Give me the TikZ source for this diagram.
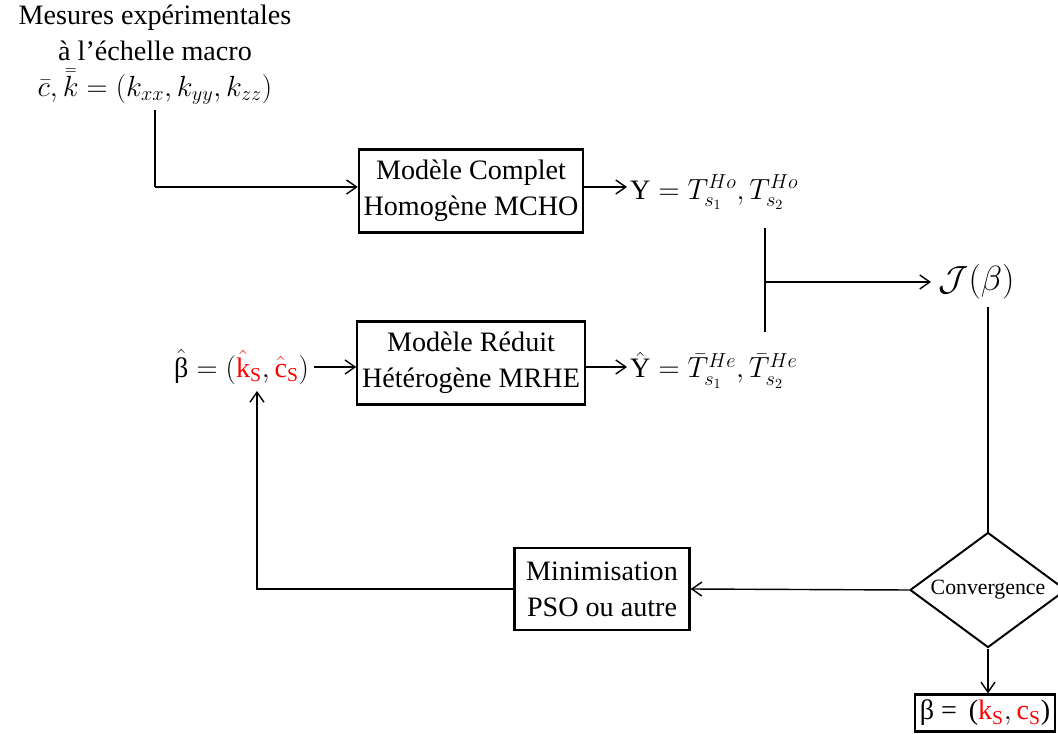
\documentclass[tikz,border=0pt]{standalone}
\usepackage{amsmath}
\usepackage{fontspec}
\setmainfont{Liberation Serif}
\usetikzlibrary{arrows.meta,positioning,shapes.geometric}

\begin{document}
\begin{tikzpicture}[
    x=0.025cm, y=-0.025cm,
    font=\fontsize{20}{25.5}\selectfont,
    bloc/.style={draw, line width=1.6pt, minimum width=5.175cm, minimum height=2.075cm, align=center},
    losange/.style={draw, diamond, line width=1.4pt, minimum width=3.9cm, minimum height=2.875cm, inner sep=0pt},
    fleche/.style={-{Straight Barb[length=2.5mm, width=3.5mm]}, line width=1pt}
]
\useasboundingbox (0,0) rectangle (1058,734);

% Donnees d'entree
\node[align=center] (mesures) at (155,55) {Mesures expérimentales\\à l’échelle macro\\$\bar{c},\bar{\bar{k}}=(k_{xx},k_{yy},k_{zz})$};

% Modeles
\node[bloc] (mcho) at (471,191) {Modèle Complet\\Homogène MCHO};
\node[bloc] (mrhe) at (471,363) {Modèle Réduit\\Hétérogène MRHE};

% Sorties des modeles
\node[anchor=west, inner sep=2pt] (Y) at (627,192) {$\mathrm{Y}=T^{Ho}_{s_1},T^{Ho}_{s_2}$};
\node[anchor=west, inner sep=2pt] (Yh) at (627,370) {$\hat{\mathrm{Y}}=\bar{T}^{He}_{s_1},\bar{T}^{He}_{s_2}$};

% Parametres estimes
\node[anchor=east] (betah) at (314,367) {$\hat{\text{β}}=(\textcolor{red}{\hat{\text{k}}_{\text{S}}},\textcolor{red}{\hat{\text{c}}_{\text{S}}})$};

% Critere
\node[anchor=west, inner sep=5pt, font=\fontsize{26}{30}\selectfont] (J) at (931,282) {$\mathcal{J}(\beta)$};

% Boucle
\node[losange, label={[font=\fontsize{15.5}{18}\selectfont]center:Convergence}] (conv) at (988,590) {};
\node[bloc, minimum width=4.375cm, minimum height=2.05cm] (mini) at (602,589) {Minimisation\\PSO ou autre};
\node[draw, line width=1.6pt, minimum width=3.5cm, minimum height=0.925cm, inner sep=1pt] (beta) at (985,713) {β = \,($\textcolor{red}{\text{k}_{\text{S}}},\textcolor{red}{\text{c}_{\text{S}}}$)};

% Jonction
\coordinate (jhaut) at (765,228);
\coordinate (jbas) at (765,332);
\coordinate (retour) at (257,391);
\coordinate (coin) at (155,187);

% Liaisons
\draw[line width=1pt] (mesures.south) -- (coin);
\draw[fleche] (coin) -- (mcho.west |- coin);
\draw[fleche] (mcho.east |- coin) -- (Y.west |- coin);
\draw[fleche] (betah.east) -- (mrhe.west |- betah.east);
\draw[fleche] (mrhe.east |- betah.east) -- (Yh.west |- betah.east);
\draw[line width=1pt] (jhaut) -- (jbas);
\draw[fleche] (jhaut |- J.west) -- (J.west);
\draw[line width=1pt] (conv.north |- J.south) -- (conv.north);
\draw[fleche] (conv.west) -- (mini.east);
\draw[fleche] (mini.west) -| (retour);
\draw[fleche] (conv.south) -- (conv.south |- beta.north);

\end{tikzpicture}
\end{document}
